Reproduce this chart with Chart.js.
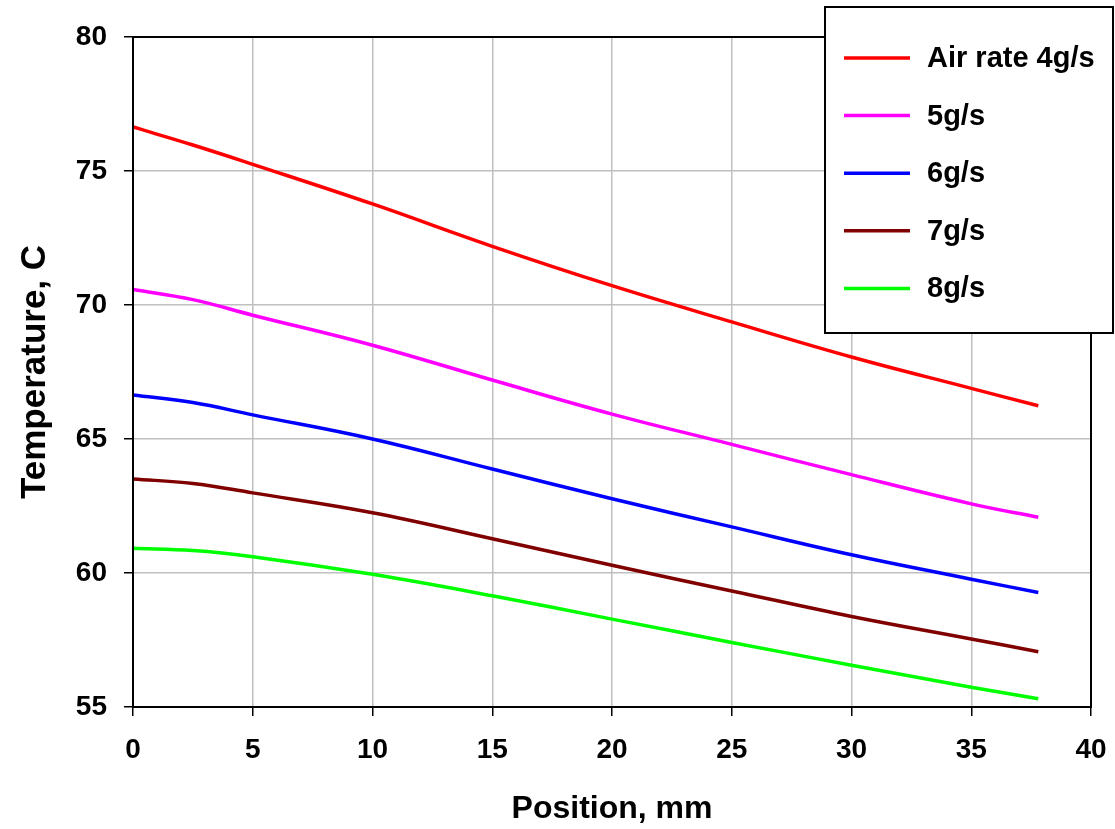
<!DOCTYPE html>
<html>
<head>
<meta charset="utf-8">
<title>Temperature vs position</title>
<script src="https://cdn.jsdelivr.net/npm/chart.js@4.4.1/dist/chart.umd.min.js"></script>
<style>
  html, body { margin: 0; padding: 0; background: #fff; }
  #wrap { width: 1115px; height: 829px; position: relative; }
</style>
</head>
<body>
<div id="wrap"><canvas id="chart" width="1115" height="829"></canvas></div>
<script>
// --- Data ---
const positions = [0, 2.5, 5, 10, 15, 20, 25, 30, 35, 37.8];
const air4 = [76.64, 75.97, 75.25, 73.77, 72.19, 70.72, 69.37, 68.06, 66.89, 66.24];
const air5 = [70.58, 70.20, 69.62, 68.50, 67.20, 65.93, 64.80, 63.67, 62.58, 62.08];
const air6 = [66.64, 66.36, 65.90, 65.00, 63.88, 62.77, 61.72, 60.68, 59.77, 59.27];
const air7 = [63.51, 63.34, 62.99, 62.25, 61.28, 60.29, 59.33, 58.38, 57.54, 57.06];
const air8 = [60.92, 60.84, 60.61, 59.95, 59.15, 58.28, 57.41, 56.56, 55.74, 55.31];

const seriesLabels = ['Air rate 4g/s', '5g/s', '6g/s', '7g/s', '8g/s'];
const seriesColors = ['#ff0000', '#ff00ff', '#0000ff', '#800000', '#00ff00'];
const seriesValues = [air4, air5, air6, air7, air8];

const xTicks = [0, 5, 10, 15, 20, 25, 30, 35, 40];
const yTicks = [55, 60, 65, 70, 75, 80];

const FONT = '"Liberation Sans", Arial, sans-serif';

// Box round the plot area (top and right edges too)
const frame = {
    id: 'frame',
    afterDatasetsDraw(chart) {
        const a = chart.chartArea, ctx = chart.ctx;
        ctx.save();
        ctx.strokeStyle = '#000';
        ctx.lineWidth = 2;
        ctx.strokeRect(a.left, a.top, a.right - a.left, a.bottom - a.top);
        ctx.restore();
    }
};

// Legend box in the top right corner
const boxLegend = {
    id: 'boxLegend',
    afterDraw(chart) {
        const ctx = chart.ctx;
        ctx.save();
        ctx.fillStyle = '#fff';
        ctx.fillRect(825, 7, 288, 326);
        ctx.strokeStyle = '#000';
        ctx.lineWidth = 2;
        ctx.strokeRect(825, 7, 288, 326);
        ctx.font = 'bold 29px ' + FONT;
        ctx.textBaseline = 'middle';
        chart.data.datasets.forEach((ds, i) => {
            const y = 58 + i * 57.6;
            ctx.strokeStyle = ds.borderColor;
            ctx.lineWidth = 3.5;
            ctx.beginPath();
            ctx.moveTo(844, y);
            ctx.lineTo(910, y);
            ctx.stroke();
            ctx.fillStyle = '#000';
            ctx.fillText(ds.label, 927, y + 1);
        });
        ctx.restore();
    }
};

const datasets = seriesLabels.map((label, i) => ({
    label: label,
    data: positions.map((p, j) => ({ x: p, y: seriesValues[i][j] })),
    borderColor: seriesColors[i],
    backgroundColor: seriesColors[i],
    borderWidth: 3.5,
    pointRadius: 0,
    fill: false,
    tension: 0.4
}));

new Chart(document.getElementById('chart').getContext('2d'), {
    type: 'line',
    data: { datasets: datasets },
    plugins: [frame, boxLegend],
    options: {
        responsive: false,
        animation: false,
        layout: { padding: { top: 37, right: 24, left: 0, bottom: 0 } },
        plugins: { legend: { display: false }, tooltip: { enabled: false } },
        scales: {
            x: {
                type: 'linear',
                min: 0, max: 40,
                afterFit: s => { s.height = 122; s.paddingLeft = 0; s.paddingRight = 0; },
                afterBuildTicks: s => { s.ticks = xTicks.map(v => ({ value: v })); },
                grid: { color: '#c0c0c0', lineWidth: 1.5, tickColor: '#000', tickLength: 9 },
                border: { color: '#000', width: 2 },
                ticks: { color: '#000', padding: 17, font: { family: FONT, size: 28, weight: 'bold' } },
                title: {
                    display: true, text: 'Position, mm', color: '#000',
                    padding: { top: 0, bottom: 1 },
                    font: { family: FONT, size: 32, weight: 'bold' }
                }
            },
            y: {
                min: 55, max: 80,
                afterFit: s => { s.width = 133; s.paddingTop = 0; s.paddingBottom = 0; },
                afterBuildTicks: s => { s.ticks = yTicks.map(v => ({ value: v })); },
                grid: { color: '#c0c0c0', lineWidth: 1.5, tickColor: '#000', tickLength: 9 },
                border: { color: '#000', width: 2 },
                ticks: { color: '#000', padding: 17, font: { family: FONT, size: 28, weight: 'bold' } },
                title: {
                    display: true, text: 'Temperature, C', color: '#000',
                    padding: { top: 14, bottom: 0 },
                    font: { family: FONT, size: 35, weight: 'bold' }
                }
            }
        }
    }
});
</script>
</body>
</html>
